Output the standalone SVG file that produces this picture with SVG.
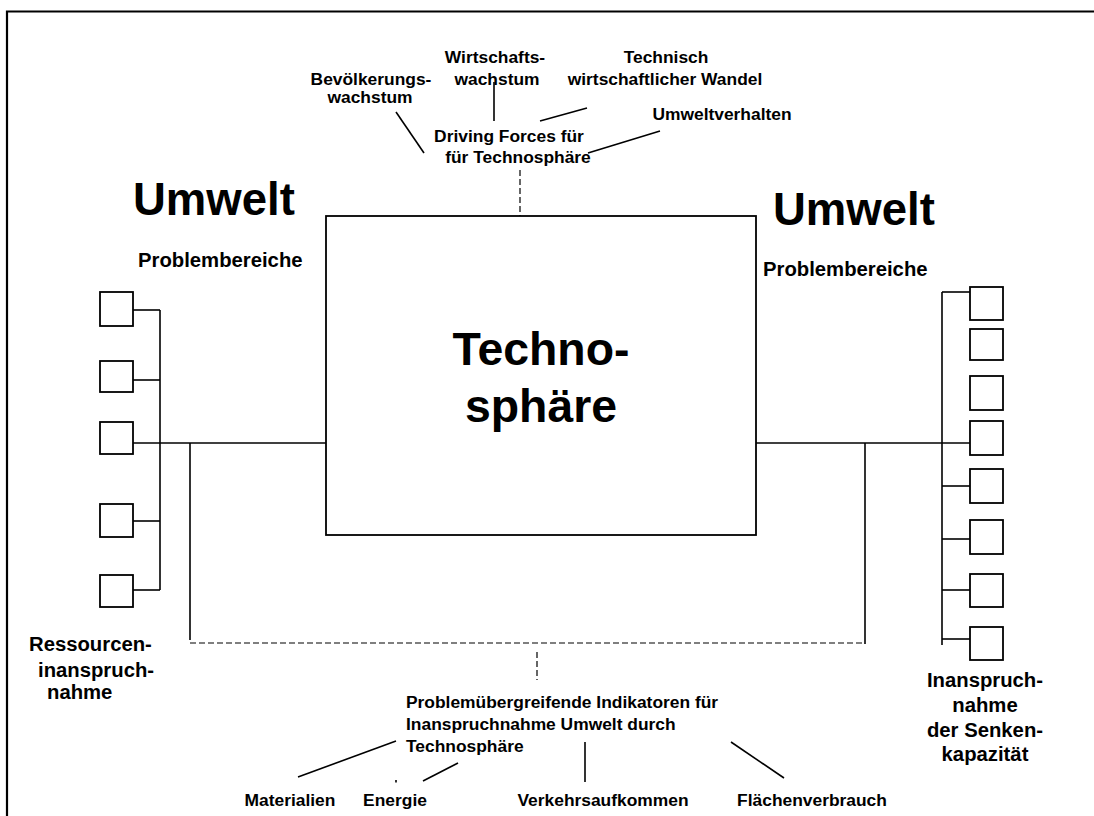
<svg xmlns="http://www.w3.org/2000/svg" width="1094" height="816" viewBox="0 0 1094 816">
<style>
.t{font-family:"Liberation Sans",Arial,sans-serif;font-weight:bold;fill:#000}
.s{font-size:17.4px}
.m{font-size:20.3px}
.l{font-size:45.5px}
.x{font-size:46.4px}
.c{text-anchor:middle}
.ln{stroke:#000;stroke-width:1.6;fill:none}
.d{stroke:#000;stroke-width:1.2;fill:none;stroke-dasharray:6 3}
.bx{fill:#fff;stroke:#000;stroke-width:1.8}
</style>
<rect width="1094" height="816" fill="#fff"/>
<path d="M7,830 V11.5 H1100" fill="none" stroke="#000" stroke-width="2.2"/>

<g id="connectors">
  <line class="ln" x1="494" y1="82" x2="494" y2="121"/>
  <line class="ln" x1="540" y1="121" x2="587" y2="108"/>
  <line class="ln" x1="396" y1="112" x2="424" y2="153"/>
  <line class="ln" x1="588" y1="153" x2="660" y2="131"/>
  <line class="d" x1="520" y1="170" x2="520" y2="216" stroke-dasharray="4 2"/>
  <line class="ln" x1="133" y1="310" x2="160" y2="310"/>
  <line class="ln" x1="133" y1="380" x2="160" y2="380"/>
  <line class="ln" x1="133" y1="521" x2="160" y2="521"/>
  <line class="ln" x1="133" y1="590" x2="160" y2="590"/>
  <line class="ln" x1="160" y1="310" x2="160" y2="590"/>
  <line class="ln" x1="133" y1="443" x2="326" y2="443"/>
  <line class="ln" x1="190" y1="443" x2="190" y2="640"/>
  <line class="ln" x1="756" y1="443" x2="970" y2="443"/>
  <line class="ln" x1="865" y1="443" x2="865" y2="644"/>
  <line class="ln" x1="942" y1="292" x2="942" y2="645"/>
  <line class="ln" x1="942" y1="292" x2="970" y2="292"/>
  <line class="ln" x1="942" y1="486" x2="970" y2="486"/>
  <line class="ln" x1="942" y1="539" x2="970" y2="539"/>
  <line class="ln" x1="942" y1="590" x2="970" y2="590"/>
  <line class="ln" x1="942" y1="639" x2="970" y2="639"/>
  <line class="d" x1="190" y1="643" x2="865" y2="643"/>
  <line class="d" x1="537" y1="652" x2="537" y2="680" stroke-dasharray="4 2"/>
  <line class="ln" x1="298" y1="777" x2="396" y2="741"/>
  <line class="ln" x1="396" y1="780" x2="396" y2="782.5"/>
  <line class="ln" x1="423" y1="781" x2="458" y2="763"/>
  <line class="ln" x1="585" y1="742" x2="585" y2="782"/>
  <line class="ln" x1="731" y1="742" x2="784" y2="778"/>
</g>

<g id="technosphaere">
  <rect class="bx" x="326" y="216" width="430" height="319"/>
  <text class="t x c" x="541" y="365">Techno-</text>
  <text class="t x c" x="541" y="422">sphäre</text>
</g>

<g id="driving-forces">
  <text class="t s c" x="509" y="142">Driving Forces für</text>
  <text class="t s c" x="518" y="163">für Technosphäre</text>
</g>
<g id="bevoelkerung">
  <text class="t s c" x="371" y="85">Bevölkerungs-</text>
  <text class="t s c" x="370" y="103">wachstum</text>
</g>
<g id="wirtschaft">
  <text class="t s c" x="495" y="63">Wirtschafts-</text>
  <text class="t s c" x="497" y="85">wachstum</text>
</g>
<g id="technisch">
  <text class="t s c" x="666" y="63">Technisch</text>
  <text class="t s c" x="665" y="85">wirtschaftlicher Wandel</text>
</g>
<g id="umweltverhalten">
  <text class="t s c" x="722" y="120">Umweltverhalten</text>
</g>

<g id="umwelt-left">
  <text class="t l" x="133" y="215">Umwelt</text>
  <text class="t m" x="138" y="267">Problembereiche</text>
</g>
<g id="umwelt-right">
  <text class="t l" x="773" y="225">Umwelt</text>
  <text class="t m" x="763" y="276">Problembereiche</text>
</g>

<g id="left-problems">
  <rect class="bx" x="100" y="292" width="33" height="34"/>
  <rect class="bx" x="100" y="361" width="33" height="31"/>
  <rect class="bx" x="100" y="422" width="33" height="32"/>
  <rect class="bx" x="100" y="504" width="33" height="33"/>
  <rect class="bx" x="100" y="575" width="33" height="32"/>
</g>
<g id="right-problems">
  <rect class="bx" x="970" y="287" width="33" height="33"/>
  <rect class="bx" x="970" y="329" width="33" height="31"/>
  <rect class="bx" x="970" y="376" width="33" height="34"/>
  <rect class="bx" x="970" y="421" width="33" height="34"/>
  <rect class="bx" x="970" y="469" width="33" height="34"/>
  <rect class="bx" x="970" y="520" width="33" height="34"/>
  <rect class="bx" x="970" y="574" width="33" height="33"/>
  <rect class="bx" x="970" y="627" width="33" height="33"/>
</g>

<g id="ressourcen">
  <text class="t m" x="29" y="651">Ressourcen-</text>
  <text class="t m" x="38" y="677">inanspruch-</text>
  <text class="t m" x="47" y="699">nahme</text>
</g>
<g id="senken">
  <text class="t m c" x="985" y="687">Inanspruch-</text>
  <text class="t m c" x="985" y="712">nahme</text>
  <text class="t m c" x="985" y="737">der Senken-</text>
  <text class="t m c" x="985" y="761">kapazität</text>
</g>

<g id="indikatoren">
  <text class="t s" x="406" y="708">Problemübergreifende Indikatoren für</text>
  <text class="t s" x="406" y="730">Inanspruchnahme Umwelt durch</text>
  <text class="t s" x="406" y="752">Technosphäre</text>
</g>
<g id="materialien"><text class="t s c" x="290" y="806">Materialien</text></g>
<g id="energie"><text class="t s c" x="395" y="806">Energie</text></g>
<g id="verkehr"><text class="t s c" x="603" y="806">Verkehrsaufkommen</text></g>
<g id="flaechen"><text class="t s c" x="812" y="806">Flächenverbrauch</text></g>
</svg>
